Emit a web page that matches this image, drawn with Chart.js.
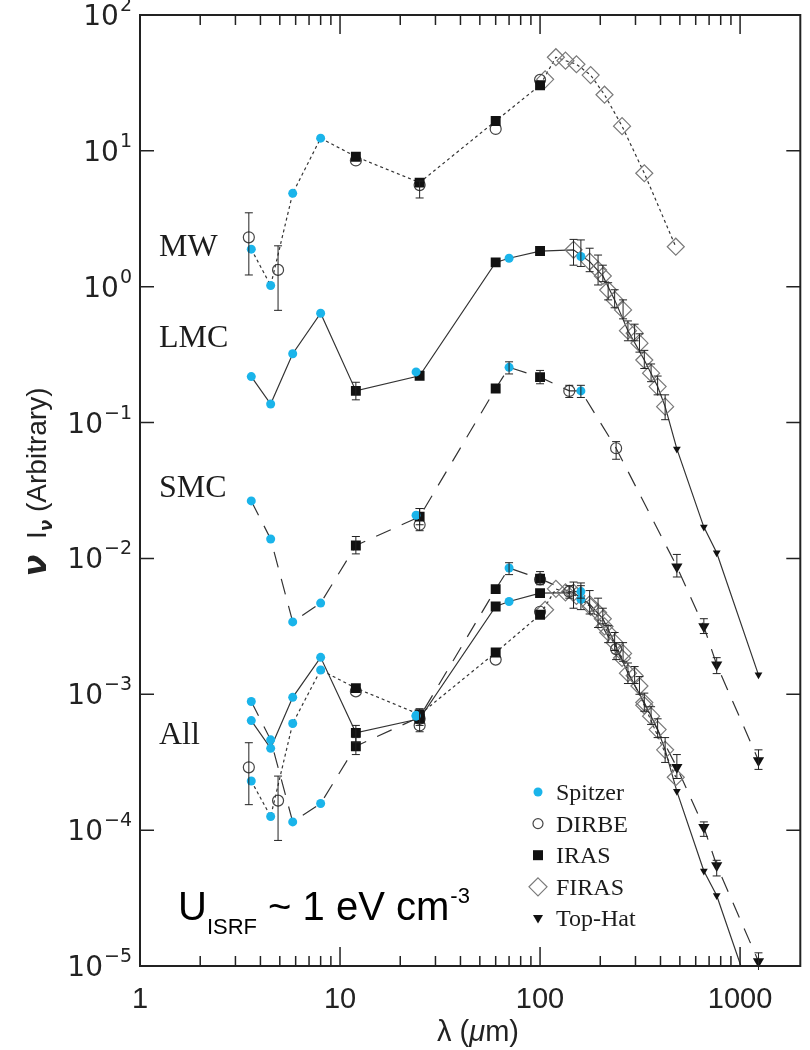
<!DOCTYPE html>
<html lang="en">
<head>
<meta charset="UTF-8">
<title>Dust SED: MW, LMC, SMC</title>
<script src="https://cdn.jsdelivr.net/npm/chart.js"></script>
<style>
  html, body { margin: 0; padding: 0; background: #fff; overflow: hidden; }
  #wrap { width: 810px; height: 1050px; }
  canvas { display: block; }
</style>
</head>
<body>
<div id="wrap"><canvas id="sed" width="810" height="1050"></canvas></div>
<script>
// rows are [wavelength (um), nu I_nu] or [wavelength, value, errLow, errHigh]

// Milky Way (dotted)
const mwSpitzer = [[3.6, 1.89], [4.5, 1.02], [5.8, 4.87], [8.0, 12.4]];
const mwDirbe = [[3.5, 2.31, 1.22, 3.5], [4.9, 1.33, 0.67, 2.0], [12, 8.5], [25, 5.6, 4.5, 6.0], [60, 14.5], [100, 33.3]];
const mwIras = [[12, 9.06], [25, 5.84], [60, 16.6], [100, 30.4]];
const mwFiras = [[106, 33.6], [120, 48.9], [134, 46.1], [152, 43.4], [179, 36.1], [210, 25.9], [257, 15.2], [332, 6.84], [477, 1.97]];
const mwLine = [[3.6, 1.89], [4.5, 1.02], [5.8, 4.87], [8.0, 12.4], [12, 9.06], [25, 5.84], [60, 16.6], [100, 30.4],
  [120, 48.9], [134, 46.1], [152, 43.4], [179, 36.1], [210, 25.9], [257, 15.2], [332, 6.84], [477, 1.97]];

// LMC (solid)
const lmcSpitzer = [[3.6, 0.218], [4.5, 0.137], [5.8, 0.321], [8.0, 0.638], [24, 0.236], [70, 1.62], [160, 1.67, 1.41, 2.21]];
const lmcIras = [[12, 0.171, 0.147, 0.198], [25, 0.221], [60, 1.51], [100, 1.83]];
const lmcFiras = [[147, 1.87, 1.44, 2.23], [177, 1.53, 1.29, 1.92], [195, 1.33, 1.03, 1.71], [206, 1.20, 1.09, 1.44],
  [219, 0.946, 0.80, 1.07], [236, 0.80, 0.70, 0.95], [260, 0.675, 0.58, 0.80], [275, 0.475, 0.40, 0.56],
  [297, 0.455, 0.40, 0.53], [314, 0.384, 0.33, 0.45], [332, 0.289, 0.25, 0.34], [359, 0.231, 0.20, 0.27],
  [387, 0.184, 0.16, 0.22], [422, 0.131, 0.105, 0.16]];
const lmcTopHat = [[483, 0.064], [659, 0.017], [764, 0.011], [1236, 0.00139]];
const lmcLine = [[3.6, 0.218], [4.5, 0.137], [5.8, 0.321], [8.0, 0.638], [12, 0.171], [25, 0.221], [60, 1.51], [70, 1.62],
  [100, 1.83], [147, 1.87], [177, 1.53], [206, 1.20], [236, 0.80], [275, 0.475], [332, 0.289], [387, 0.184], [422, 0.131],
  [483, 0.064], [659, 0.017], [764, 0.011], [1236, 0.00139]];

// SMC (long dashes)
const smcSpitzer = [[3.6, 0.0265], [4.5, 0.0139], [5.8, 0.00341], [8.0, 0.00469], [24, 0.0208], [70, 0.255, 0.228, 0.28], [160, 0.171, 0.153, 0.188]];
const smcDirbe = [[25, 0.0177, 0.016, 0.0233], [140, 0.171, 0.153, 0.188], [240, 0.0647, 0.0537, 0.0724]];
const smcIras = [[12, 0.01245, 0.0108, 0.0145], [25, 0.0203, 0.0177, 0.0233], [60, 0.178], [100, 0.216, 0.193, 0.242]];
const smcTopHat = [[483, 0.0087, 0.0073, 0.0107], [659, 0.00315, 0.0028, 0.0036], [764, 0.00165, 0.00142, 0.00186], [1236, 0.000326, 0.00028, 0.00039]];
const smcLine = [[3.6, 0.0265], [4.5, 0.0139], [5.8, 0.00341], [8.0, 0.00469], [12, 0.01245], [25, 0.0203], [60, 0.178], [70, 0.255],
  [100, 0.216], [140, 0.171], [160, 0.171], [240, 0.0647], [483, 0.0087], [659, 0.00315], [764, 0.00165], [1236, 0.000326]];

// "All" group, the three SEDs brought together
const allMwSpitzer = [[3.6, 2.3e-4], [4.5, 1.26e-4], [5.8, 6.1e-4], [8.0, 1.51e-3]];
const allMwDirbe = [[3.5, 2.9e-4, 1.54e-4, 4.4e-4], [4.9, 1.65e-4, 8.4e-5, 2.5e-4], [12, 1.05e-3], [25, 6.6e-4], [60, 1.8e-3], [100, 4.05e-3]];
const allMwIras = [[12, 1.11e-3], [25, 7.1e-4], [60, 2.03e-3], [100, 3.85e-3]];
const allMwFiras = [[106, 4.19e-3], [120, 5.97e-3], [134, 5.62e-3], [152, 5.3e-3], [179, 4.4e-3], [210, 3.16e-3], [257, 1.85e-3], [332, 8.3e-4], [477, 2.45e-4]];
const allMwLine = [[3.6, 2.3e-4], [4.5, 1.26e-4], [5.8, 6.1e-4], [8.0, 1.51e-3], [12, 1.11e-3], [25, 7.1e-4], [60, 2.03e-3], [100, 3.85e-3],
  [120, 5.97e-3], [134, 5.62e-3], [152, 5.3e-3], [179, 4.4e-3], [210, 3.16e-3], [257, 1.85e-3], [332, 8.3e-4], [477, 2.45e-4]];

const allLmcSpitzer = [[3.6, 6.4e-4], [4.5, 4.0e-4], [5.8, 9.5e-4], [8.0, 1.87e-3], [24, 7.0e-4], [70, 4.82e-3], [160, 5.0e-3, 4.2e-3, 6.6e-3]];
const allLmcIras = [[12, 5.2e-4, 4.4e-4, 5.9e-4], [25, 6.6e-4], [60, 4.43e-3], [100, 5.55e-3]];
const allLmcFiras = [[147, 5.6e-3, 4.3e-3, 6.7e-3], [177, 4.6e-3, 3.9e-3, 5.8e-3], [195, 4.0e-3, 3.1e-3, 5.1e-3], [206, 3.6e-3, 3.3e-3, 4.3e-3],
  [219, 2.85e-3, 2.4e-3, 3.2e-3], [236, 2.4e-3, 2.1e-3, 2.85e-3], [260, 2.0e-3, 1.75e-3, 2.4e-3], [275, 1.43e-3, 1.2e-3, 1.7e-3],
  [297, 1.37e-3, 1.2e-3, 1.6e-3], [314, 1.15e-3, 1.0e-3, 1.35e-3], [332, 8.7e-4, 7.5e-4, 1.02e-3], [359, 6.9e-4, 6.0e-4, 8.1e-4],
  [387, 5.5e-4, 4.8e-4, 6.6e-4], [422, 3.9e-4, 3.15e-4, 4.8e-4]];
const allLmcTopHat = [[483, 1.93e-4], [659, 5.0e-5], [764, 3.3e-5], [1236, 4.2e-6]];
const allLmcLine = [[3.6, 6.4e-4], [4.5, 4.0e-4], [5.8, 9.5e-4], [8.0, 1.87e-3], [12, 5.2e-4], [25, 6.6e-4], [60, 4.43e-3], [70, 4.82e-3],
  [100, 5.55e-3], [147, 5.6e-3], [177, 4.6e-3], [206, 3.6e-3], [236, 2.4e-3], [275, 1.43e-3], [332, 8.7e-4], [387, 5.5e-4], [422, 3.9e-4],
  [483, 1.93e-4], [659, 5.0e-5], [764, 3.3e-5], [1236, 4.2e-6]];

const allSmcSpitzer = [[3.6, 8.85e-4], [4.5, 4.62e-4], [5.8, 1.15e-4], [8.0, 1.57e-4], [24, 6.9e-4], [70, 8.5e-3, 7.6e-3, 9.3e-3], [160, 5.7e-3, 5.1e-3, 6.3e-3]];
const allSmcDirbe = [[25, 5.9e-4, 5.3e-4, 7.8e-4], [100, 7.0e-3], [140, 5.7e-3, 5.1e-3, 6.3e-3], [240, 2.15e-3, 1.8e-3, 2.4e-3]];
const allSmcIras = [[12, 4.15e-4, 3.6e-4, 4.8e-4], [25, 6.8e-4, 5.9e-4, 7.8e-4], [60, 5.94e-3], [100, 7.1e-3, 6.4e-3, 8.0e-3]];
const allSmcTopHat = [[483, 2.9e-4, 2.4e-4, 3.6e-4], [659, 1.05e-4, 9.0e-5, 1.15e-4], [764, 5.5e-5, 4.6e-5, 6.0e-5], [1236, 1.08e-5, 9.0e-6, 1.25e-5]];
const allSmcLine = [[3.6, 8.85e-4], [4.5, 4.62e-4], [5.8, 1.15e-4], [8.0, 1.57e-4], [12, 4.15e-4], [25, 6.8e-4], [60, 5.94e-3], [70, 8.5e-3],
  [100, 7.1e-3], [140, 5.7e-3], [160, 5.7e-3], [240, 2.15e-3], [483, 2.9e-4], [659, 1.05e-4], [764, 5.5e-5], [1236, 1.08e-5]];

// axes
const xMajorTicks = [1, 10, 100, 1000];
const xTickLabels = ['1', '10', '100', '1000'];
const xMinorTicks = [2, 3, 4, 5, 6, 7, 8, 9, 20, 30, 40, 50, 60, 70, 80, 90, 200, 300, 400, 500, 600, 700, 800, 900];
const yTickExps = [2, 1, 0, -1, -2, -3, -4, -5];

const groupLabels = [['MW', 256], ['LMC', 347], ['SMC', 497], ['All', 744]];
const legendNames = ['Spitzer', 'DIRBE', 'IRAS', 'FIRAS', 'Top-Hat'];

const INK = '#222';
const CYAN = '#1ab4ea';

const markerStyle = {
  Spitzer: { pointStyle: 'circle', pointRadius: 4.5, backgroundColor: CYAN, borderColor: CYAN, borderWidth: 0, order: 3 },
  DIRBE: { pointStyle: 'circle', pointRadius: 5.5, backgroundColor: 'rgba(0,0,0,0)', borderColor: '#444', borderWidth: 1.2, order: 5 },
  IRAS: { pointStyle: 'rect', pointRadius: 7, backgroundColor: '#111', borderColor: '#111', borderWidth: 0, order: 4 },
  FIRAS: { pointStyle: 'rectRot', pointRadius: 8.5, backgroundColor: 'rgba(0,0,0,0)', borderColor: '#7a7a7a', borderWidth: 1.2, order: 6 },
  TopHatSmall: { pointStyle: 'triangle', rotation: 180, pointRadius: 4.5, backgroundColor: '#111', borderColor: '#111', borderWidth: 0, order: 2 },
  TopHatBig: { pointStyle: 'triangle', rotation: 180, pointRadius: 6.5, backgroundColor: '#111', borderColor: '#111', borderWidth: 0, order: 2 }
};

const lineStyle = {
  dotted: { borderDash: [3, 3] },
  solid: { borderDash: [] },
  dashed: { borderDash: [16, 12] }
};

function toPoints(rows) {
  return rows.map(r => ({ x: r[0], y: r[1], lo: r[2], hi: r[3] }));
}

function markers(rows, kind) {
  return Object.assign({ data: toPoints(rows), showLine: false, clip: 8, pointHoverRadius: 0 }, markerStyle[kind]);
}

function curve(rows, kind) {
  return Object.assign({
    data: toPoints(rows), showLine: true, pointRadius: 0, borderColor: '#333', borderWidth: 1.2,
    backgroundColor: 'rgba(0,0,0,0)', tension: 0, order: 10
  }, lineStyle[kind]);
}

const datasets = [
  curve(mwLine, 'dotted'), curve(lmcLine, 'solid'), curve(smcLine, 'dashed'),
  curve(allMwLine, 'dotted'), curve(allLmcLine, 'solid'), curve(allSmcLine, 'dashed'),
  markers(mwFiras, 'FIRAS'), markers(lmcFiras, 'FIRAS'), markers(allMwFiras, 'FIRAS'), markers(allLmcFiras, 'FIRAS'),
  markers(mwDirbe, 'DIRBE'), markers(smcDirbe, 'DIRBE'), markers(allMwDirbe, 'DIRBE'), markers(allSmcDirbe, 'DIRBE'),
  markers(mwIras, 'IRAS'), markers(lmcIras, 'IRAS'), markers(smcIras, 'IRAS'),
  markers(allMwIras, 'IRAS'), markers(allLmcIras, 'IRAS'), markers(allSmcIras, 'IRAS'),
  markers(mwSpitzer, 'Spitzer'), markers(lmcSpitzer, 'Spitzer'), markers(smcSpitzer, 'Spitzer'),
  markers(allMwSpitzer, 'Spitzer'), markers(allLmcSpitzer, 'Spitzer'), markers(allSmcSpitzer, 'Spitzer'),
  markers(lmcTopHat, 'TopHatSmall'), markers(allLmcTopHat, 'TopHatSmall'),
  markers(smcTopHat, 'TopHatBig'), markers(allSmcTopHat, 'TopHatBig')
];

function legendMarker(ctx, name, x, y) {
  ctx.save();
  ctx.lineWidth = 1.2;
  ctx.beginPath();
  if (name === 'Spitzer') {
    ctx.fillStyle = CYAN; ctx.arc(x, y, 4.5, 0, Math.PI * 2); ctx.fill();
  } else if (name === 'DIRBE') {
    ctx.strokeStyle = '#444'; ctx.arc(x, y, 5, 0, Math.PI * 2); ctx.stroke();
  } else if (name === 'IRAS') {
    ctx.fillStyle = '#111'; ctx.fillRect(x - 5, y - 5, 10, 10);
  } else if (name === 'FIRAS') {
    ctx.strokeStyle = '#7a7a7a';
    ctx.moveTo(x, y - 9); ctx.lineTo(x + 9, y); ctx.lineTo(x, y + 9); ctx.lineTo(x - 9, y); ctx.closePath(); ctx.stroke();
  } else {
    ctx.fillStyle = '#111';
    ctx.moveTo(x - 5, y - 3.5); ctx.lineTo(x + 5, y - 3.5); ctx.lineTo(x, y + 5); ctx.closePath(); ctx.fill();
  }
  ctx.restore();
}

const SANS = '"Liberation Sans", Arial, sans-serif';
const SERIF = '"Liberation Serif", "Times New Roman", serif';

const decorations = {
  id: 'decorations',
  afterDatasetsDraw(chart) {
    // error bars
    const { ctx, chartArea: a, scales: { x, y } } = chart;
    ctx.save();
    ctx.beginPath();
    ctx.rect(a.left, a.top - 10, a.right - a.left, a.bottom - a.top + 14);
    ctx.clip();
    ctx.strokeStyle = INK;
    ctx.lineWidth = 1;
    chart.data.datasets.forEach(ds => {
      if (ds.showLine) return;
      ds.data.forEach(p => {
        if (p.lo === undefined) return;
        const px = x.getPixelForValue(p.x);
        const y1 = y.getPixelForValue(p.lo), y2 = y.getPixelForValue(p.hi);
        ctx.beginPath();
        ctx.moveTo(px, y1); ctx.lineTo(px, y2);
        ctx.moveTo(px - 4, y1); ctx.lineTo(px + 4, y1);
        ctx.moveTo(px - 4, y2); ctx.lineTo(px + 4, y2);
        ctx.stroke();
      });
    });
    ctx.restore();
  },
  afterDraw(chart) {
    const { ctx, chartArea: a, scales: { x, y } } = chart;
    ctx.save();

    // frame
    ctx.strokeStyle = INK;
    ctx.lineWidth = 2;
    ctx.strokeRect(a.left, a.top, a.right - a.left, a.bottom - a.top);

    // ticks, pointing inward on all four sides
    ctx.lineWidth = 1.5;
    ctx.beginPath();
    xMajorTicks.forEach(v => {
      const px = x.getPixelForValue(v);
      ctx.moveTo(px, a.bottom); ctx.lineTo(px, a.bottom - 19);
      ctx.moveTo(px, a.top); ctx.lineTo(px, a.top + 19);
    });
    xMinorTicks.forEach(v => {
      const px = x.getPixelForValue(v);
      ctx.moveTo(px, a.bottom); ctx.lineTo(px, a.bottom - 10);
      ctx.moveTo(px, a.top); ctx.lineTo(px, a.top + 10);
    });
    yTickExps.forEach(e => {
      const py = y.getPixelForValue(Math.pow(10, e));
      ctx.moveTo(a.left, py); ctx.lineTo(a.left + 14, py);
      ctx.moveTo(a.right, py); ctx.lineTo(a.right - 14, py);
    });
    ctx.stroke();

    // tick labels
    ctx.fillStyle = INK;
    ctx.textBaseline = 'alphabetic';
    ctx.font = '29px ' + SANS;
    ctx.textAlign = 'center';
    xMajorTicks.forEach((v, i) => ctx.fillText(xTickLabels[i], x.getPixelForValue(v), 1008));

    ctx.textAlign = 'left';
    const baseFont = '28px "DejaVu Sans", sans-serif';
    const expFont = '19px "DejaVu Sans", sans-serif';
    yTickExps.forEach(e => {
      const py = y.getPixelForValue(Math.pow(10, e));
      const exp = e < 0 ? '\u2212' + (-e) : String(e);
      ctx.font = baseFont;
      const wb = ctx.measureText('10').width;
      ctx.font = expFont;
      const we = ctx.measureText(exp).width;
      const x0 = 131 - we - wb;
      ctx.font = baseFont;
      ctx.fillText('10', x0, py + 10);
      ctx.font = expFont;
      ctx.fillText(exp, x0 + wb + 1, py - 4);
    });

    // axis titles
    ctx.font = '29px ' + SANS;
    const xt = '\u03bb (';
    const wx1 = ctx.measureText(xt).width;
    ctx.font = 'italic 29px ' + SANS;
    const wmu = ctx.measureText('\u03bc').width;
    ctx.font = '29px ' + SANS;
    const wm = ctx.measureText('m)').width;
    let cx = 478 - (wx1 + wmu + wm) / 2;
    ctx.fillText(xt, cx, 1041); cx += wx1;
    ctx.font = 'italic 29px ' + SANS;
    ctx.fillText('\u03bc', cx, 1041); cx += wmu;
    ctx.font = '29px ' + SANS;
    ctx.fillText('m)', cx, 1041);

    ctx.save();
    ctx.translate(46, 482);
    ctx.rotate(-Math.PI / 2);
    const parts = [
      ['\u03bd', 'italic bold 32px "DejaVu Sans", sans-serif', 0],
      ['  I', '28px ' + SANS, 0],
      ['\u03bd', 'italic bold 17px "DejaVu Sans", sans-serif', 6],
      [' (Arbitrary)', '28px ' + SANS, 0]
    ];
    let tw = 0;
    parts.forEach(p => { ctx.font = p[1]; tw += ctx.measureText(p[0]).width; });
    let tx = -tw / 2;
    parts.forEach(p => { ctx.font = p[1]; ctx.fillText(p[0], tx, p[2]); tx += ctx.measureText(p[0]).width; });
    ctx.restore();

    // group names
    ctx.font = '32px ' + SERIF;
    ctx.fillStyle = '#1c1c1c';
    groupLabels.forEach(g => ctx.fillText(g[0], 159, g[1]));

    // legend
    ctx.font = '24px ' + SERIF;
    legendNames.forEach((n, i) => {
      const ly = 792 + i * 31.6;
      legendMarker(ctx, n, 538, ly);
      ctx.fillStyle = '#1c1c1c';
      ctx.fillText(n, 556, ly + 8);
    });

    // energy density note
    ctx.fillStyle = '#000';
    let ux = 178;
    ctx.font = '40px ' + SANS;
    ctx.fillText('U', ux, 920); ux += ctx.measureText('U').width;
    ctx.font = '22px ' + SANS;
    ctx.fillText('ISRF', ux, 934); ux += ctx.measureText('ISRF').width;
    ctx.font = '40px ' + SANS;
    ctx.fillText(' ~ 1 eV cm', ux, 920); ux += ctx.measureText(' ~ 1 eV cm').width;
    ctx.font = '22px ' + SANS;
    ctx.fillText('-3', ux + 1, 903);

    ctx.restore();
  }
};

new Chart(document.getElementById('sed'), {
  type: 'scatter',
  data: { datasets },
  options: {
    responsive: false,
    animation: false,
    devicePixelRatio: 1,
    layout: { padding: { left: 140, right: 4, top: 15, bottom: 84 } },
    scales: {
      x: { type: 'logarithmic', min: 1, max: 2000, display: false },
      y: { type: 'logarithmic', min: 1e-5, max: 100, display: false }
    },
    plugins: { legend: { display: false }, tooltip: { enabled: false } },
    events: []
  },
  plugins: [decorations]
});
</script>
</body>
</html>
